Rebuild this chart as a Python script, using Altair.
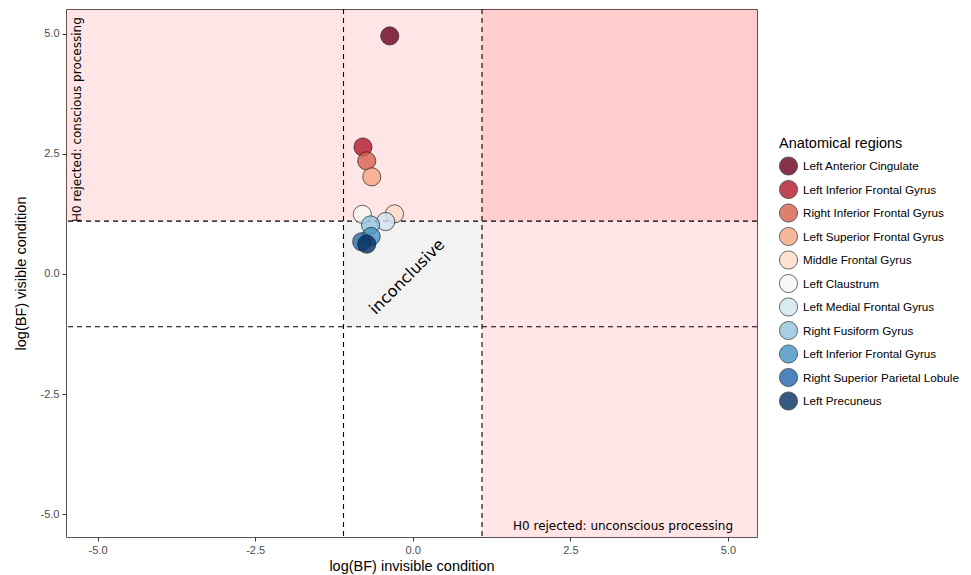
import altair as alt
import pandas as pd

# ---- data ----
regions = ["Left Anterior Cingulate", "Left Inferior Frontal Gyrus", "Right Inferior Frontal Gyrus",
           "Left Superior Frontal Gyrus", "Middle Frontal Gyrus", "Left Claustrum",
           "Left Medial Frontal Gyrus", "Right Fusiform Gyrus", "Left Inferior Frontal Gyrus",
           "Right Superior Parietal Lobule", "Left Precuneus"]
bf_invisible = [-0.365, -0.79, -0.73, -0.65, -0.29, -0.80, -0.43, -0.67, -0.66, -0.81, -0.73]
bf_visible = [4.95, 2.64, 2.35, 2.02, 1.25, 1.24, 1.09, 1.02, 0.78, 0.67, 0.62]
palette = ["#67001f", "#b2182b", "#d6604d", "#f4a582", "#fddbc7", "#f7f7f7",
           "#d1e5f0", "#92c5de", "#4393c3", "#2166ac", "#053061"]

threshold = 1.0986  # log(3)
x_lim = [-5.5, 5.46]
y_lim = [-5.47, 5.51]
tick_vals = [-5.0, -2.5, 0.0, 2.5, 5.0]

# make duplicate region names distinct keys (label renders identically)
keys = []
for r in regions:
    k = r
    while k in keys:
        k = k + " "
    keys.append(k)

pts = pd.DataFrame({"region": keys, "inv": bf_invisible, "vis": bf_visible,
                    "order": list(range(len(keys)))})

zones = pd.DataFrame({
    "x": [x_lim[0], threshold, -threshold],
    "x2": [x_lim[1], x_lim[1], threshold],
    "y": [threshold, y_lim[0], -threshold],
    "y2": [y_lim[1], y_lim[1], threshold],
    "fill": ["red", "red", "grey"],
    "op": [0.1, 0.1, 0.1],
})
vlines = pd.DataFrame({"x": [-threshold, threshold]})
hlines = pd.DataFrame({"y": [-threshold, threshold]})

labels_df = pd.DataFrame({
    "x": [-5.27, 5.08, -0.09],
    "y": [1.08, -5.33, -0.06],
    "text": ["H0 rejected: conscious processing", "H0 rejected: unconscious processing", "inconclusive"],
})

xs = alt.Scale(domain=x_lim, nice=False, zero=False)
ys = alt.Scale(domain=y_lim, nice=False, zero=False)
lab_expr = "datum.value < 0 ? '-' + format(-datum.value, '.1f') : format(datum.value, '.1f')"
xaxis = alt.Axis(values=tick_vals, labelExpr=lab_expr, title="log(BF) invisible condition")
yaxis = alt.Axis(values=tick_vals, labelExpr=lab_expr, title="log(BF) visible condition")


def X(f):
    return alt.X(f, type="quantitative", scale=xs, axis=xaxis)


def Y(f):
    return alt.Y(f, type="quantitative", scale=ys, axis=yaxis)


rects = alt.Chart(zones).mark_rect().encode(
    x=X("x"), x2="x2", y=Y("y"), y2="y2",
    color=alt.Color("fill:N", scale=None),
    opacity=alt.Opacity("op:Q", scale=None),
)

vr = alt.Chart(vlines).mark_rule(color="black", strokeDash=[5, 4], strokeWidth=1.1).encode(x=X("x"))
hr = alt.Chart(hlines).mark_rule(color="black", strokeDash=[5, 4], strokeWidth=1.1).encode(y=Y("y"))

lab_df = labels_df
t1 = alt.Chart(lab_df.iloc[[0]]).mark_text(angle=270, align="left", baseline="alphabetic",
                                           font="DejaVu Sans", fontSize=12, color="black").encode(
    x=X("x"), y=Y("y"), text="text:N")
t2 = alt.Chart(lab_df.iloc[[1]]).mark_text(align="right", baseline="alphabetic",
                                           font="DejaVu Sans", fontSize=12, color="black").encode(
    x=X("x"), y=Y("y"), text="text:N")
t3 = alt.Chart(lab_df.iloc[[2]]).mark_text(angle=315, align="center", baseline="middle",
                                           font="DejaVu Sans", fontSize=16, color="black").encode(
    x=X("x"), y=Y("y"), text="text:N")

points = alt.Chart(pts).mark_circle(size=330, fillOpacity=0.8, stroke="#1a1a1a",
                                    strokeWidth=0.8, strokeOpacity=0.85).encode(
    x=X("inv"), y=Y("vis"),
    color=alt.Color("region:N", scale=alt.Scale(domain=keys, range=palette),
                    legend=alt.Legend(title="Anatomical regions", orient="none",
                                      legendX=713, legendY=128)),
    order="order:Q",
)

chart = alt.layer(rects, vr, hr, t1, t2, t3, points).properties(
    width=691, height=528,
    autosize=alt.AutoSizeParams(type="none"),
    padding={"left": 58, "top": 1, "right": 205, "bottom": 40},
).configure_view(stroke="#555555", strokeWidth=1).configure_axis(
    grid=False, domain=False, tickColor="#333333", tickSize=4, tickWidth=1,
    labelColor="#4d4d4d", labelFontSize=11, labelFont="Liberation Sans", labelPadding=3,
    titleFont="Liberation Sans", titleFontSize=14.5, titleFontWeight="normal", titleColor="black",
).configure_axisX(titlePadding=4).configure_axisY(titlePadding=12).configure_legend(
    titleFont="Liberation Sans", titleFontSize=14.5, titleFontWeight="normal", titleColor="black",
    labelFont="Liberation Sans", labelFontSize=11.7, labelColor="black",
    symbolType="circle", symbolSize=330, symbolStrokeColor="#1a1a1a", symbolStrokeWidth=0.8,
    symbolOpacity=0.8, rowPadding=0.5, titlePadding=5, labelOffset=5, labelLimit=300,
)

chart.save("out.html", embed_options={"renderer": "svg", "actions": False})
